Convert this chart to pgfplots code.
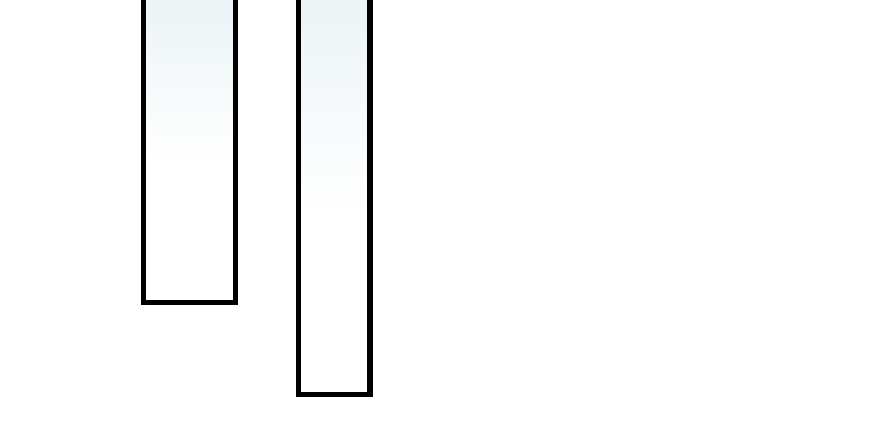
\documentclass[border=0pt]{standalone}
\usepackage{pgfplots}
\pgfplotsset{compat=1.18}
\definecolor{barTop}{RGB}{236,244,247}
% white over the lower half of the path, fading to barTop at its top
\pgfdeclareverticalshading{barshade}{100bp}{color(0bp)=(white); color(25bp)=(white);
  color(48bp)=(white); color(75bp)=(barTop); color(100bp)=(barTop)}
\begin{document}
\begin{tikzpicture}
\begin{axis}[
    width=880pt, height=421pt,
    scale only axis,
    hide axis,
    xmin=0, xmax=880,
    ymin=0, ymax=421,
    y dir=reverse,
    clip=true,
]
% open-topped outlines: the bars run on past the top edge
\addplot[draw=black, line width=5.5pt, line join=miter, shading=barshade]
    coordinates {(143.7,0) (143.7,302.3) (235.6,302.3) (235.6,0)};
\addplot[draw=black, line width=5.5pt, line join=miter, shading=barshade]
    coordinates {(298.7,0) (298.7,394.3) (370.0,394.3) (370.0,0)};
\end{axis}
\pgfresetboundingbox
\useasboundingbox (current axis.south west) rectangle (current axis.north east);
\end{tikzpicture}
\end{document}
